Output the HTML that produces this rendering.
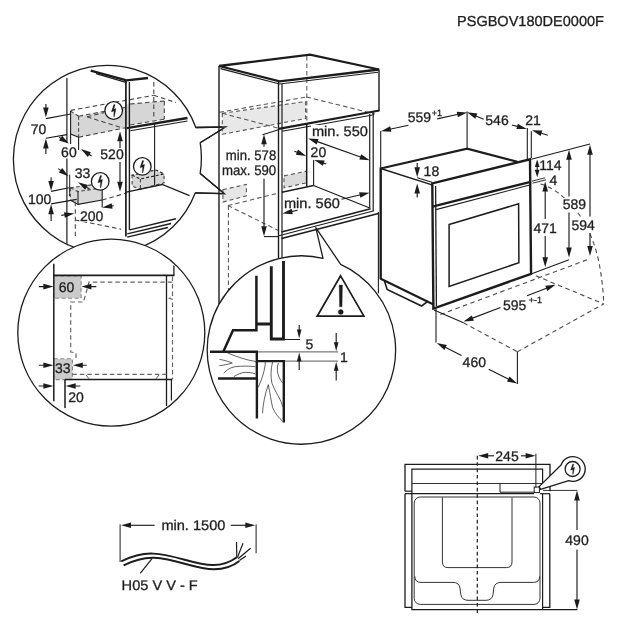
<!DOCTYPE html>
<html><head><meta charset="utf-8"><title>PSGBOV180DE0000F</title>
<style>
html,body{margin:0;padding:0;background:#fff;}
body{width:626px;height:626px;overflow:hidden;}
svg{display:block;font-family:"Liberation Sans",sans-serif;text-rendering:geometricPrecision;will-change:transform;}
</style></head><body>
<svg width="626" height="626" viewBox="0 0 626 626">
<rect width="626" height="626" fill="#fff"/>
<text x="457" y="26.2" font-size="14.5" text-anchor="start" textLength="147" lengthAdjust="spacingAndGlyphs" fill="#1e1e1e" stroke="#1e1e1e" stroke-width="0.3">PSGBOV180DE0000F</text>
<defs><clipPath id="c1"><circle cx="107.4" cy="159.4" r="94"/></clipPath><clipPath id="c2"><circle cx="111.3" cy="332.7" r="93.5"/></clipPath><clipPath id="c3"><circle cx="301.4" cy="350" r="94.2"/></clipPath></defs>
<path d="M195.83,127.52 A94,94 0 1 0 195.21,192.95 L224.5,193.7 L200.2,173.4 Q202.6,158 200.2,142.7 L225.6,127 Z" fill="#fff" stroke="#1c1c1c" stroke-width="1.3" stroke-linejoin="round" stroke-linecap="butt"/>
<g clip-path="url(#c1)">
<polygon points="70.6,111.1 78.6,116.2 125.8,107.3 125.8,127.7 78.6,137.3 70.6,134.1" fill="#d6d6d6" stroke="#d6d6d6" stroke-width="0.1" stroke-linejoin="miter"/>
<polygon points="126,104.4 164.3,101 164.3,119.2 126,125.4" fill="#d6d6d6" stroke="#d6d6d6" stroke-width="0.1" stroke-linejoin="miter"/>
<polygon points="70.3,187.8 94.6,184.5 102.2,187.8 102.2,200 78,204.4 70.3,200" fill="#d9d9d9" stroke="#d9d9d9" stroke-width="0.1" stroke-linejoin="miter"/>
<polygon points="132.1,175.1 155.8,170 164.1,173.9 164.1,182.8 140.4,189.2 132.1,186" fill="#d6d6d6" stroke="#d6d6d6" stroke-width="0.1" stroke-linejoin="miter"/>
<line x1="70.6" y1="110.4" x2="153.8" y2="95.3" stroke="#444" stroke-width="1.1" stroke-dasharray="4.5 3" stroke-linecap="butt"/>
<line x1="153.8" y1="95.3" x2="176" y2="102.6" stroke="#444" stroke-width="1.1" stroke-dasharray="4.5 3" stroke-linecap="butt"/>
<line x1="78.6" y1="116.2" x2="125.8" y2="107.3" stroke="#444" stroke-width="1.1" stroke-dasharray="4.5 3" stroke-linecap="butt"/>
<line x1="130" y1="104" x2="164.3" y2="101" stroke="#444" stroke-width="1.1" stroke-dasharray="4.5 3" stroke-linecap="butt"/>
<line x1="164.3" y1="101" x2="164.3" y2="119.2" stroke="#444" stroke-width="1.1" stroke-dasharray="4.5 3" stroke-linecap="butt"/>
<line x1="130" y1="125" x2="164.3" y2="119.2" stroke="#444" stroke-width="1.1" stroke-dasharray="4.5 3" stroke-linecap="butt"/>
<line x1="78.6" y1="137.3" x2="125.8" y2="127.7" stroke="#444" stroke-width="1.1" stroke-dasharray="4.5 3" stroke-linecap="butt"/>
<line x1="70.6" y1="111.1" x2="78.6" y2="116.2" stroke="#444" stroke-width="1.1" stroke-dasharray="3.5 2.5" stroke-linecap="butt"/>
<line x1="87" y1="116.8" x2="121.5" y2="127.7" stroke="#444" stroke-width="1.1" stroke-dasharray="4.5 3" stroke-linecap="butt"/>
<line x1="87" y1="116.8" x2="104" y2="112.6" stroke="#444" stroke-width="1.1" stroke-dasharray="4.5 3" stroke-linecap="butt"/>
<line x1="78.6" y1="116.2" x2="78.6" y2="137.3" stroke="#444" stroke-width="1.1" stroke-dasharray="3.5 2.5" stroke-linecap="butt"/>
<line x1="70.6" y1="111.1" x2="70.6" y2="144" stroke="#1c1c1c" stroke-width="1.1" stroke-linecap="butt"/>
<line x1="70.6" y1="134.1" x2="78.6" y2="137.3" stroke="#1c1c1c" stroke-width="1.1" stroke-linecap="butt"/>
<polyline points="70.3,187.8 78,191.6 102.2,187.8" fill="none" stroke="#444" stroke-width="1.1" stroke-dasharray="3.5 2.5" stroke-linejoin="miter"/>
<line x1="78" y1="191.6" x2="78" y2="204.4" stroke="#1c1c1c" stroke-width="1.1" stroke-linecap="butt"/>
<line x1="70.3" y1="187.8" x2="70.3" y2="200" stroke="#444" stroke-width="1.1" stroke-dasharray="3.5 2.5" stroke-linecap="butt"/>
<polyline points="70.3,200 78,204.4 102.2,200" fill="none" stroke="#1c1c1c" stroke-width="1.1" stroke-linejoin="miter"/>
<line x1="102.2" y1="187.8" x2="102.2" y2="207.5" stroke="#1c1c1c" stroke-width="1.1" stroke-linecap="butt"/>
<line x1="70.3" y1="187.8" x2="94.6" y2="184.5" stroke="#444" stroke-width="1.1" stroke-dasharray="3.5 2.5" stroke-linecap="butt"/>
<line x1="102.2" y1="200" x2="126.5" y2="193" stroke="#444" stroke-width="1.1" stroke-dasharray="4.5 3" stroke-linecap="butt"/>
<polygon points="132.1,175.1 140.4,179 164.1,173.9 155.8,170" fill="none" stroke="#1c1c1c" stroke-width="1.1" stroke-dasharray="3 2" stroke-linejoin="miter"/>
<polyline points="132.1,175.1 132.1,186 140.4,189.2 164.1,182.8 164.1,173.9" fill="none" stroke="#444" stroke-width="1.1" stroke-dasharray="3.5 2.5" stroke-linejoin="miter"/>
<line x1="140.4" y1="179" x2="140.4" y2="189.2" stroke="#444" stroke-width="1.1" stroke-dasharray="3.5 2.5" stroke-linecap="butt"/>
<line x1="66.9" y1="78" x2="66.9" y2="143" stroke="#1c1c1c" stroke-width="1.2" stroke-linecap="butt"/>
<line x1="66.9" y1="158.6" x2="66.9" y2="245" stroke="#1c1c1c" stroke-width="1.2" stroke-linecap="butt"/>
<line x1="69.7" y1="174.6" x2="69.7" y2="196" stroke="#1c1c1c" stroke-width="1" stroke-linecap="butt"/>
<line x1="90.7" y1="70.6" x2="126.5" y2="80.4" stroke="#1c1c1c" stroke-width="2.4" stroke-linecap="butt"/>
<line x1="126.5" y1="80.4" x2="148" y2="78" stroke="#1c1c1c" stroke-width="2.4" stroke-linecap="butt"/>
<line x1="96" y1="73.6" x2="126.8" y2="82.6" stroke="#1c1c1c" stroke-width="1.1" stroke-linecap="butt"/>
<line x1="125.9" y1="80" x2="125.9" y2="236.5" stroke="#1c1c1c" stroke-width="1.7" stroke-linecap="butt"/>
<line x1="129.4" y1="82" x2="129.4" y2="230" stroke="#1c1c1c" stroke-width="1.4" stroke-linecap="butt"/>
<line x1="126.8" y1="128.2" x2="187.5" y2="118" stroke="#1c1c1c" stroke-width="2.3" stroke-linecap="butt"/>
<line x1="130.3" y1="130.8" x2="187.5" y2="121" stroke="#1c1c1c" stroke-width="1.1" stroke-linecap="butt"/>
<line x1="153.8" y1="82" x2="153.8" y2="118.5" stroke="#444" stroke-width="1.1" stroke-dasharray="4.5 3" stroke-linecap="butt"/>
<line x1="154.6" y1="124" x2="154.6" y2="185.6" stroke="#1c1c1c" stroke-width="1.1" stroke-linecap="butt"/>
<polyline points="125.1,192.4 162.2,184.5 189.5,195.6" fill="none" stroke="#1c1c1c" stroke-width="1.3" stroke-linejoin="miter"/>
<line x1="129.6" y1="229.9" x2="175.9" y2="218.8" stroke="#1c1c1c" stroke-width="1.4" stroke-linecap="butt"/>
<line x1="127.2" y1="233.9" x2="171.1" y2="223.5" stroke="#1c1c1c" stroke-width="1.3" stroke-linecap="butt"/>
<line x1="127.2" y1="237.1" x2="167.9" y2="227.5" stroke="#1c1c1c" stroke-width="1.4" stroke-linecap="butt"/>
<line x1="75.3" y1="201.7" x2="75.3" y2="236" stroke="#444" stroke-width="1.1" stroke-dasharray="4.5 3" stroke-linecap="butt"/>
<line x1="75.3" y1="220" x2="121.2" y2="229.2" stroke="#444" stroke-width="1.1" stroke-dasharray="4.5 3" stroke-linecap="butt"/>
<line x1="45.9" y1="104.1" x2="45.9" y2="108.6" stroke="#1c1c1c" stroke-width="1.15" stroke-linecap="butt"/>
<polygon points="45.9,117.6 43.1,107.6 48.7,107.6" fill="#1c1c1c"/>
<line x1="45.9" y1="118.6" x2="70.6" y2="114" stroke="#1c1c1c" stroke-width="1.1" stroke-linecap="butt"/>
<line x1="45.9" y1="153.9" x2="45.9" y2="147.5" stroke="#1c1c1c" stroke-width="1.15" stroke-linecap="butt"/>
<polygon points="45.9,138.5 48.7,148.5 43.1,148.5" fill="#1c1c1c"/>
<line x1="45.9" y1="138.2" x2="67" y2="134.6" stroke="#1c1c1c" stroke-width="1.1" stroke-linecap="butt"/>
<text x="38.6" y="134.01" font-size="14" text-anchor="middle" fill="#1e1e1e" stroke="#1e1e1e" stroke-width="0.3">70</text>
<line x1="59.3" y1="137.2" x2="61.41" y2="138.61" stroke="#1c1c1c" stroke-width="1.15" stroke-linecap="butt"/>
<polygon points="68.9,143.6 59.03,140.38 62.13,135.72" fill="#1c1c1c"/>
<line x1="91.6" y1="156" x2="88.54" y2="154.01" stroke="#1c1c1c" stroke-width="1.15" stroke-linecap="butt"/>
<polygon points="81,149.1 90.91,152.21 87.85,156.9" fill="#1c1c1c"/>
<line x1="78.6" y1="137.3" x2="78.6" y2="150" stroke="#1c1c1c" stroke-width="1.1" stroke-linecap="butt"/>
<text x="68.9" y="157.01" font-size="14" text-anchor="middle" fill="#1e1e1e" stroke="#1e1e1e" stroke-width="0.3">60</text>
<line x1="120" y1="148" x2="120" y2="140.2" stroke="#1c1c1c" stroke-width="1.15" stroke-linecap="butt"/>
<polygon points="120,131.2 122.8,141.2 117.2,141.2" fill="#1c1c1c"/>
<line x1="120" y1="162" x2="120" y2="182.8" stroke="#1c1c1c" stroke-width="1.15" stroke-linecap="butt"/>
<polygon points="120,191.8 117.2,181.8 122.8,181.8" fill="#1c1c1c"/>
<text x="112" y="158.51" font-size="14" text-anchor="middle" fill="#1e1e1e" stroke="#1e1e1e" stroke-width="0.3">520</text>
<line x1="58.3" y1="168.6" x2="61.32" y2="170.88" stroke="#1c1c1c" stroke-width="1.15" stroke-linecap="butt"/>
<polygon points="68.5,176.3 58.83,172.51 62.21,168.04" fill="#1c1c1c"/>
<line x1="89.5" y1="189.1" x2="85.72" y2="186.83" stroke="#1c1c1c" stroke-width="1.15" stroke-linecap="butt"/>
<polygon points="78,182.2 88.02,184.94 85.13,189.75" fill="#1c1c1c"/>
<text x="82.6" y="177.51" font-size="14" text-anchor="middle" fill="#1e1e1e" stroke="#1e1e1e" stroke-width="0.3">33</text>
<line x1="51.1" y1="177.6" x2="51.1" y2="182" stroke="#1c1c1c" stroke-width="1.15" stroke-linecap="butt"/>
<polygon points="51.1,191 48.3,181 53.9,181" fill="#1c1c1c"/>
<line x1="51.1" y1="191.4" x2="69" y2="187.8" stroke="#1c1c1c" stroke-width="1.1" stroke-linecap="butt"/>
<line x1="51.1" y1="221" x2="51.1" y2="213.3" stroke="#1c1c1c" stroke-width="1.15" stroke-linecap="butt"/>
<polygon points="51.1,204.3 53.9,214.3 48.3,214.3" fill="#1c1c1c"/>
<line x1="51.1" y1="203.9" x2="76.7" y2="199.4" stroke="#1c1c1c" stroke-width="1.1" stroke-linecap="butt"/>
<text x="39.6" y="204.31" font-size="14" text-anchor="middle" fill="#1e1e1e" stroke="#1e1e1e" stroke-width="0.3">100</text>
<line x1="61.3" y1="215.4" x2="65.4" y2="214.77" stroke="#1c1c1c" stroke-width="1.15" stroke-linecap="butt"/>
<polygon points="74.3,213.4 64.84,217.69 63.99,212.15" fill="#1c1c1c"/>
<line x1="113.7" y1="205.7" x2="111.09" y2="206.11" stroke="#1c1c1c" stroke-width="1.15" stroke-linecap="butt"/>
<polygon points="102.2,207.5 111.65,203.19 112.51,208.72" fill="#1c1c1c"/>
<rect x="79.5" y="210" width="24.5" height="12" fill="#fff"/>
<text x="91.7" y="221.01" font-size="14" text-anchor="middle" fill="#1e1e1e" stroke="#1e1e1e" stroke-width="0.3">200</text>
<circle cx="113.7" cy="110.5" r="8.8" fill="#fff" stroke="#1c1c1c" stroke-width="1.3"/>
<polygon points="113.8,104.6 115.2,104.8 113.8,109.2 116,108.5 114.4,116.8 113.7,116.8 114,111 111.3,111.9" fill="#1c1c1c" stroke="#1c1c1c" stroke-width="0.3"/>
<circle cx="142.3" cy="166.4" r="8.8" fill="#fff" stroke="#1c1c1c" stroke-width="1.3"/>
<polygon points="142.4,160.5 143.8,160.7 142.4,165.1 144.6,164.4 143,172.7 142.3,172.7 142.6,166.9 139.9,167.8" fill="#1c1c1c" stroke="#1c1c1c" stroke-width="0.3"/>
<circle cx="100.2" cy="181.4" r="8.8" fill="#fff" stroke="#1c1c1c" stroke-width="1.3"/>
<polygon points="100.3,175.5 101.7,175.7 100.3,180.1 102.5,179.4 100.9,187.7 100.2,187.7 100.5,181.9 97.8,182.8" fill="#1c1c1c" stroke="#1c1c1c" stroke-width="0.3"/>
</g>
<polygon points="222.3,113.3 305.6,101.5 305.6,118.5 222.3,134.3" fill="#e8e8e8" stroke="#555" stroke-width="1.1" stroke-dasharray="4 3" stroke-linejoin="miter"/>
<polygon points="222.9,189.7 246.4,184.4 246.4,195.9 222.9,202.1" fill="#e6e6e6" stroke="#555" stroke-width="1.1" stroke-dasharray="4 3" stroke-linejoin="miter"/>
<polygon points="284,175.9 306.4,171.2 306.4,182.8 284,187.9" fill="#dcdcdc" stroke="#555" stroke-width="1.1" stroke-dasharray="4 3" stroke-linejoin="miter"/>
<line x1="306.8" y1="56" x2="306.8" y2="123" stroke="#555" stroke-width="1.05" stroke-dasharray="4.5 3" stroke-linecap="butt"/>
<line x1="219.4" y1="112.3" x2="306.6" y2="97" stroke="#555" stroke-width="1.05" stroke-dasharray="4.5 3" stroke-linecap="butt"/>
<line x1="306.6" y1="97" x2="375" y2="114" stroke="#555" stroke-width="1.05" stroke-dasharray="4.5 3" stroke-linecap="butt"/>
<line x1="222.3" y1="113.3" x2="279.8" y2="128.6" stroke="#555" stroke-width="1.05" stroke-dasharray="4.5 3" stroke-linecap="butt"/>
<line x1="228" y1="205.6" x2="278.4" y2="193.1" stroke="#555" stroke-width="1.05" stroke-dasharray="4.5 3" stroke-linecap="butt"/>
<line x1="228" y1="205.6" x2="278.4" y2="230.5" stroke="#555" stroke-width="1.05" stroke-dasharray="4.5 3" stroke-linecap="butt"/>
<line x1="228.4" y1="205.6" x2="228.4" y2="292" stroke="#555" stroke-width="1.05" stroke-dasharray="4.5 3" stroke-linecap="butt"/>
<polygon points="219,66 310,54.7 379,69.5 279.6,81.3" fill="none" stroke="#1c1c1c" stroke-width="2.3" stroke-linejoin="miter"/>
<polyline points="220.5,68.6 279.6,84 378,72.2" fill="none" stroke="#1c1c1c" stroke-width="1.1" stroke-linejoin="miter"/>
<line x1="219" y1="66" x2="219" y2="304" stroke="#1c1c1c" stroke-width="1.4" stroke-linecap="butt"/>
<line x1="278.5" y1="82" x2="278.5" y2="262" stroke="#1c1c1c" stroke-width="1.4" stroke-linecap="butt"/>
<line x1="282" y1="84" x2="282" y2="262" stroke="#1c1c1c" stroke-width="1.2" stroke-linecap="butt"/>
<line x1="379" y1="69.5" x2="379" y2="111" stroke="#1c1c1c" stroke-width="1.4" stroke-linecap="butt"/>
<line x1="379.4" y1="110.5" x2="278.5" y2="128.8" stroke="#1c1c1c" stroke-width="2.2" stroke-linecap="butt"/>
<line x1="374" y1="114.8" x2="282" y2="131.2" stroke="#1c1c1c" stroke-width="1.1" stroke-linecap="butt"/>
<line x1="369.7" y1="114" x2="369.7" y2="208" stroke="#1c1c1c" stroke-width="1.2" stroke-linecap="butt"/>
<line x1="373.2" y1="112" x2="373.2" y2="211" stroke="#1c1c1c" stroke-width="1.2" stroke-linecap="butt"/>
<line x1="281.5" y1="232" x2="370.6" y2="208.8" stroke="#1c1c1c" stroke-width="1.7" stroke-linecap="butt"/>
<line x1="279" y1="235.8" x2="374.1" y2="210.7" stroke="#1c1c1c" stroke-width="1.1" stroke-linecap="butt"/>
<line x1="281.5" y1="238.5" x2="378.4" y2="213.5" stroke="#1c1c1c" stroke-width="1.7" stroke-linecap="butt"/>
<line x1="378.4" y1="212" x2="378.4" y2="293.3" stroke="#1c1c1c" stroke-width="1.1" stroke-linecap="butt"/>
<line x1="306.7" y1="124" x2="306.7" y2="186.4" stroke="#1c1c1c" stroke-width="1.5" stroke-linecap="butt"/>
<line x1="313.5" y1="185.5" x2="369.8" y2="208" stroke="#1c1c1c" stroke-width="1.2" stroke-linecap="butt"/>
<line x1="313.5" y1="185.5" x2="281.8" y2="192.2" stroke="#1c1c1c" stroke-width="1.4" stroke-linecap="butt"/>
<line x1="313.6" y1="160" x2="313.6" y2="185.6" stroke="#1c1c1c" stroke-width="1.1" stroke-linecap="butt"/>
<text x="276.2" y="160.4" font-size="14" text-anchor="end" textLength="50.4" lengthAdjust="spacingAndGlyphs" fill="#1e1e1e" stroke="#1e1e1e" stroke-width="0.3">min. 578</text>
<text x="276.2" y="175.1" font-size="14" text-anchor="end" textLength="54.3" lengthAdjust="spacingAndGlyphs" fill="#1e1e1e" stroke="#1e1e1e" stroke-width="0.3">max. 590</text>
<line x1="264" y1="146.8" x2="264" y2="143.3" stroke="#1c1c1c" stroke-width="1.15" stroke-linecap="butt"/>
<polygon points="264,134.3 266.8,144.3 261.2,144.3" fill="#1c1c1c"/>
<line x1="264" y1="178.8" x2="264" y2="227.3" stroke="#1c1c1c" stroke-width="1.15" stroke-linecap="butt"/>
<polygon points="264,236.3 261.2,226.3 266.8,226.3" fill="#1c1c1c"/>
<line x1="262.5" y1="134.8" x2="278.5" y2="129.8" stroke="#1c1c1c" stroke-width="1.1" stroke-linecap="butt"/>
<line x1="264" y1="236.6" x2="278.5" y2="236.6" stroke="#1c1c1c" stroke-width="1.1" stroke-linecap="butt"/>
<polygon points="308.2,138.4 318.56,139.1 316.69,144.38" fill="#1c1c1c"/>
<line x1="316.68" y1="141.41" x2="361.22" y2="157.19" stroke="#1c1c1c" stroke-width="1.15" stroke-linecap="butt"/>
<polygon points="369.7,160.2 359.34,159.5 361.21,154.22" fill="#1c1c1c"/>
<rect x="311" y="125" width="58" height="12.5" fill="#fff"/>
<text x="311.9" y="136.2" font-size="14" text-anchor="start" textLength="56.1" lengthAdjust="spacingAndGlyphs" fill="#1e1e1e" stroke="#1e1e1e" stroke-width="0.3">min. 550</text>
<line x1="294.4" y1="151.2" x2="297.84" y2="152.57" stroke="#1c1c1c" stroke-width="1.15" stroke-linecap="butt"/>
<polygon points="306.2,155.9 295.87,154.8 297.95,149.6" fill="#1c1c1c"/>
<line x1="326.3" y1="164" x2="322.84" y2="162.85" stroke="#1c1c1c" stroke-width="1.15" stroke-linecap="butt"/>
<polygon points="314.3,160 324.67,160.51 322.9,165.82" fill="#1c1c1c"/>
<text x="318.4" y="156.91" font-size="14" text-anchor="middle" fill="#1e1e1e" stroke="#1e1e1e" stroke-width="0.3">20</text>
<line x1="297.6" y1="210.3" x2="291.21" y2="211.65" stroke="#1c1c1c" stroke-width="1.15" stroke-linecap="butt"/>
<polygon points="282.4,213.5 291.61,208.7 292.76,214.18" fill="#1c1c1c"/>
<line x1="341.5" y1="199.2" x2="360.73" y2="194.81" stroke="#1c1c1c" stroke-width="1.15" stroke-linecap="butt"/>
<polygon points="369.5,192.8 360.38,197.76 359.13,192.3" fill="#1c1c1c"/>
<text x="283.9" y="208.2" font-size="14" text-anchor="start" textLength="56.1" lengthAdjust="spacingAndGlyphs" fill="#1e1e1e" stroke="#1e1e1e" stroke-width="0.3">min. 560</text>
<polyline points="195.83,127.52 225.6,127 200.2,142.7" fill="none" stroke="#1c1c1c" stroke-width="1.3" stroke-linejoin="miter"/>
<polyline points="200.2,173.4 224.5,193.7 195.21,192.95" fill="none" stroke="#1c1c1c" stroke-width="1.3" stroke-linejoin="miter"/>
<line x1="380.7" y1="131" x2="380.7" y2="168" stroke="#1c1c1c" stroke-width="1.1" stroke-linecap="butt"/>
<line x1="467.1" y1="111.5" x2="467.1" y2="148" stroke="#1c1c1c" stroke-width="1.1" stroke-linecap="butt"/>
<line x1="527.3" y1="128.1" x2="527.3" y2="159.5" stroke="#1c1c1c" stroke-width="1.1" stroke-linecap="butt"/>
<line x1="531.3" y1="131.2" x2="531.3" y2="158" stroke="#1c1c1c" stroke-width="1.1" stroke-linecap="butt"/>
<polyline points="380.7,168.5 467.1,148.6 517.5,161.8" fill="none" stroke="#1c1c1c" stroke-width="2.2" stroke-linejoin="miter"/>
<line x1="380.7" y1="167.6" x2="380.7" y2="279" stroke="#1c1c1c" stroke-width="2.4" stroke-linecap="butt"/>
<line x1="380.7" y1="168.5" x2="432" y2="184.8" stroke="#1c1c1c" stroke-width="1.4" stroke-linecap="butt"/>
<line x1="417.2" y1="177.7" x2="432" y2="182.2" stroke="#1c1c1c" stroke-width="1.1" stroke-linecap="butt"/>
<polygon points="432.3,183.4 530,159.3 531.05,273.9 433.4,308.6" fill="none" stroke="#1c1c1c" stroke-width="2.4" stroke-linejoin="miter"/>
<line x1="435.6" y1="186" x2="436.4" y2="306" stroke="#1c1c1c" stroke-width="1.3" stroke-linecap="butt"/>
<line x1="432.5" y1="206.6" x2="530.6" y2="181.8" stroke="#1c1c1c" stroke-width="2.4" stroke-linecap="butt"/>
<line x1="436" y1="209.6" x2="530.6" y2="184.8" stroke="#1c1c1c" stroke-width="1.1" stroke-linecap="butt"/>
<polygon points="449.1,224.5 518.6,203.8 518.9,262.7 449.1,286.4" fill="none" stroke="#1c1c1c" stroke-width="1.5" stroke-linejoin="miter"/>
<line x1="380.2" y1="278.4" x2="434" y2="304.8" stroke="#1c1c1c" stroke-width="2.2" stroke-linecap="butt"/>
<polyline points="384.5,281.1 387.1,289.4 421.6,306 427.5,301.6" fill="none" stroke="#1c1c1c" stroke-width="1.6" stroke-linejoin="miter"/>
<line x1="417.2" y1="163" x2="417.2" y2="168.3" stroke="#1c1c1c" stroke-width="1.15" stroke-linecap="butt"/>
<polygon points="417.2,177.3 414.4,167.3 420,167.3" fill="#1c1c1c"/>
<line x1="417.2" y1="197.5" x2="417.2" y2="192.6" stroke="#1c1c1c" stroke-width="1.15" stroke-linecap="butt"/>
<polygon points="417.2,183.6 420,193.6 414.4,193.6" fill="#1c1c1c"/>
<text x="431.4" y="176.31" font-size="14" text-anchor="middle" fill="#1e1e1e" stroke="#1e1e1e" stroke-width="0.3">18</text>
<line x1="408.5" y1="125.2" x2="389.79" y2="129.28" stroke="#1c1c1c" stroke-width="1.15" stroke-linecap="butt"/>
<polygon points="381,131.2 390.17,126.33 391.37,131.8" fill="#1c1c1c"/>
<line x1="437.2" y1="118.9" x2="458.31" y2="114.31" stroke="#1c1c1c" stroke-width="1.15" stroke-linecap="butt"/>
<polygon points="467.1,112.4 457.92,117.26 456.73,111.79" fill="#1c1c1c"/>
<text x="419.4" y="122.31" font-size="14" text-anchor="middle" fill="#1e1e1e" stroke="#1e1e1e" stroke-width="0.3">559</text>
<text x="437" y="115.6" font-size="9" text-anchor="middle" fill="#1e1e1e" stroke="#1e1e1e" stroke-width="0.3">+1</text>
<line x1="483.7" y1="119.2" x2="475.41" y2="115.75" stroke="#1c1c1c" stroke-width="1.15" stroke-linecap="butt"/>
<polygon points="467.1,112.3 477.41,113.55 475.26,118.72" fill="#1c1c1c"/>
<line x1="511.9" y1="125" x2="518.09" y2="126.62" stroke="#1c1c1c" stroke-width="1.15" stroke-linecap="butt"/>
<polygon points="526.8,128.9 516.42,129.08 517.83,123.66" fill="#1c1c1c"/>
<text x="497" y="125.01" font-size="14" text-anchor="middle" fill="#1e1e1e" stroke="#1e1e1e" stroke-width="0.3">546</text>
<line x1="547.8" y1="135.3" x2="540.56" y2="132.96" stroke="#1c1c1c" stroke-width="1.15" stroke-linecap="butt"/>
<polygon points="532,130.2 542.38,130.61 540.66,135.94" fill="#1c1c1c"/>
<text x="533" y="125.01" font-size="14" text-anchor="middle" fill="#1e1e1e" stroke="#1e1e1e" stroke-width="0.3">21</text>
<path d="M540.5,184 C552,187 566,197 578,213 C590,229 597,250 600,268 C602.5,283 603.5,295 603.7,303.9" fill="none" stroke="#4a4a4a" stroke-width="1.1" stroke-dasharray="4.5 3.5" stroke-linejoin="round" stroke-linecap="butt"/>
<line x1="531.3" y1="159.3" x2="590" y2="144" stroke="#1c1c1c" stroke-width="1.1" stroke-linecap="butt"/>
<polygon points="537.2,159.6 539.6,167.1 534.8,167.1" fill="#1c1c1c"/>
<line x1="537.2" y1="166.1" x2="537.2" y2="170.7" stroke="#1c1c1c" stroke-width="1.15" stroke-linecap="butt"/>
<polygon points="537.2,177.2 534.8,169.7 539.6,169.7" fill="#1c1c1c"/>
<text x="550.4" y="170.01" font-size="14" text-anchor="middle" fill="#1e1e1e" stroke="#1e1e1e" stroke-width="0.3">114</text>
<line x1="532" y1="181.2" x2="545" y2="177.8" stroke="#1c1c1c" stroke-width="0.9" stroke-linecap="butt"/>
<line x1="532.6" y1="183.2" x2="546" y2="179.8" stroke="#1c1c1c" stroke-width="0.9" stroke-linecap="butt"/>
<text x="553.3" y="185.41" font-size="14" text-anchor="middle" fill="#1e1e1e" stroke="#1e1e1e" stroke-width="0.3">4</text>
<line x1="545.2" y1="219" x2="545.2" y2="190.6" stroke="#1c1c1c" stroke-width="1.15" stroke-linecap="butt"/>
<polygon points="545.2,181.6 548,191.6 542.4,191.6" fill="#1c1c1c"/>
<line x1="545.2" y1="236" x2="545.2" y2="258.2" stroke="#1c1c1c" stroke-width="1.15" stroke-linecap="butt"/>
<polygon points="545.2,267.2 542.4,257.2 548,257.2" fill="#1c1c1c"/>
<text x="545.2" y="232.81" font-size="14" text-anchor="middle" fill="#1e1e1e" stroke="#1e1e1e" stroke-width="0.3">471</text>
<line x1="569" y1="196.5" x2="569" y2="158.8" stroke="#1c1c1c" stroke-width="1.15" stroke-linecap="butt"/>
<polygon points="569,149.8 571.8,159.8 566.2,159.8" fill="#1c1c1c"/>
<line x1="569" y1="212.5" x2="569" y2="248.6" stroke="#1c1c1c" stroke-width="1.15" stroke-linecap="butt"/>
<polygon points="569,257.6 566.2,247.6 571.8,247.6" fill="#1c1c1c"/>
<rect x="562.5" y="198" width="24" height="12.6" fill="#fff"/>
<text x="574.4" y="208.81" font-size="14" text-anchor="middle" fill="#1e1e1e" stroke="#1e1e1e" stroke-width="0.3">589</text>
<line x1="590" y1="216.5" x2="590" y2="153.7" stroke="#1c1c1c" stroke-width="1.15" stroke-linecap="butt"/>
<polygon points="590,144.7 592.8,154.7 587.2,154.7" fill="#1c1c1c"/>
<line x1="590" y1="233" x2="590" y2="247" stroke="#1c1c1c" stroke-width="1.15" stroke-linecap="butt"/>
<polygon points="590,256 587.2,246 592.8,246" fill="#1c1c1c"/>
<rect x="571" y="218.4" width="24.5" height="12.6" fill="#fff"/>
<text x="583.2" y="229.71" font-size="14" text-anchor="middle" fill="#1e1e1e" stroke="#1e1e1e" stroke-width="0.3">594</text>
<line x1="531.05" y1="273.9" x2="569" y2="259.8" stroke="#1c1c1c" stroke-width="1.1" stroke-linecap="butt"/>
<line x1="440.4" y1="314.5" x2="590" y2="258.7" stroke="#4a4a4a" stroke-width="1.1" stroke-dasharray="4.5 3.5" stroke-linecap="butt"/>
<line x1="434" y1="310" x2="463.5" y2="322.8" stroke="#1c1c1c" stroke-width="1.1" stroke-linecap="butt"/>
<line x1="463.5" y1="322.8" x2="517.4" y2="351.8" stroke="#4a4a4a" stroke-width="1.1" stroke-dasharray="4.5 3.5" stroke-linecap="butt"/>
<line x1="517.4" y1="351.8" x2="603.7" y2="303.9" stroke="#4a4a4a" stroke-width="1.1" stroke-dasharray="4.5 3.5" stroke-linecap="butt"/>
<line x1="535.8" y1="275.8" x2="603.7" y2="303.9" stroke="#4a4a4a" stroke-width="1.1" stroke-dasharray="4.5 3.5" stroke-linecap="butt"/>
<line x1="500.5" y1="307.5" x2="471.91" y2="318.4" stroke="#1c1c1c" stroke-width="1.15" stroke-linecap="butt"/>
<polygon points="463.5,321.6 471.85,315.42 473.84,320.66" fill="#1c1c1c"/>
<line x1="527" y1="295.7" x2="547.2" y2="287.93" stroke="#1c1c1c" stroke-width="1.15" stroke-linecap="butt"/>
<polygon points="555.6,284.7 547.27,290.9 545.26,285.68" fill="#1c1c1c"/>
<text x="514.7" y="310.41" font-size="14" text-anchor="middle" fill="#1e1e1e" stroke="#1e1e1e" stroke-width="0.3">595</text>
<text x="535.4" y="303" font-size="9" text-anchor="middle" fill="#1e1e1e" stroke="#1e1e1e" stroke-width="0.3">+-1</text>
<line x1="436" y1="309" x2="436" y2="342.5" stroke="#1c1c1c" stroke-width="1.1" stroke-linecap="butt"/>
<line x1="517.4" y1="351.8" x2="517.4" y2="384" stroke="#1c1c1c" stroke-width="1.1" stroke-linecap="butt"/>
<line x1="461.5" y1="355.4" x2="444.74" y2="346.95" stroke="#1c1c1c" stroke-width="1.15" stroke-linecap="butt"/>
<polygon points="436.7,342.9 446.89,344.9 444.37,349.9" fill="#1c1c1c"/>
<line x1="488.7" y1="369.2" x2="509.17" y2="379.54" stroke="#1c1c1c" stroke-width="1.15" stroke-linecap="butt"/>
<polygon points="517.2,383.6 507.01,381.59 509.54,376.59" fill="#1c1c1c"/>
<text x="474.3" y="367.41" font-size="14" text-anchor="middle" fill="#1e1e1e" stroke="#1e1e1e" stroke-width="0.3">460</text>
<circle cx="111.3" cy="332.7" r="93.5" fill="#fff" stroke="#1c1c1c" stroke-width="1.3"/>
<g clip-path="url(#c2)">
<rect x="53.8" y="276" width="27.3" height="22.2" fill="#cbcbcb" stroke="#8a8a8a" stroke-width="1.1" stroke-dasharray="4 2.5"/>
<rect x="53.8" y="358.8" width="18.6" height="20.8" fill="#cbcbcb" stroke="#8a8a8a" stroke-width="1.1" stroke-dasharray="4 2.5"/>
<line x1="53.8" y1="263.8" x2="53.8" y2="401.2" stroke="#1c1c1c" stroke-width="1.5" stroke-linecap="butt"/>
<line x1="53.1" y1="275.3" x2="174.5" y2="275.3" stroke="#1c1c1c" stroke-width="1.7" stroke-linecap="butt"/>
<line x1="173.9" y1="265.6" x2="173.9" y2="275.3" stroke="#1c1c1c" stroke-width="1.3" stroke-linecap="butt"/>
<line x1="166.5" y1="275" x2="166.5" y2="406" stroke="#1c1c1c" stroke-width="1.3" stroke-linecap="butt"/>
<polyline points="172.5,276.5 172.5,297 169.5,298.2 172.5,299.4 172.5,379" fill="none" stroke="#666" stroke-width="1.2" stroke-dasharray="4.5 3" stroke-linejoin="miter"/>
<line x1="65" y1="379.6" x2="172.4" y2="379.6" stroke="#1c1c1c" stroke-width="1.5" stroke-linecap="butt"/>
<line x1="65" y1="379.6" x2="65" y2="408" stroke="#1c1c1c" stroke-width="1.5" stroke-linecap="butt"/>
<line x1="171.4" y1="379.6" x2="171.4" y2="400.5" stroke="#1c1c1c" stroke-width="1.2" stroke-linecap="butt"/>
<polyline points="172.3,282.2 89,282.2 83.5,302 70.7,302 70.7,352 76,353 76,360" fill="none" stroke="#666" stroke-width="1.2" stroke-dasharray="4.5 3" stroke-linejoin="miter"/>
<line x1="72.3" y1="374.3" x2="166.5" y2="374.3" stroke="#666" stroke-width="1.2" stroke-dasharray="4.5 3" stroke-linecap="butt"/>
<polyline points="86,375 89,378.8" fill="none" stroke="#1c1c1c" stroke-width="0.7" stroke-linejoin="miter"/>
<polyline points="159,375 156,378.8" fill="none" stroke="#1c1c1c" stroke-width="0.7" stroke-linejoin="miter"/>
<line x1="38.8" y1="286.6" x2="44.4" y2="286.6" stroke="#1c1c1c" stroke-width="1.15" stroke-linecap="butt"/>
<polygon points="53.4,286.6 43.4,289.4 43.4,283.8" fill="#1c1c1c"/>
<line x1="96.3" y1="286.6" x2="90.4" y2="286.6" stroke="#1c1c1c" stroke-width="1.15" stroke-linecap="butt"/>
<polygon points="81.4,286.6 91.4,283.8 91.4,289.4" fill="#1c1c1c"/>
<text x="66.5" y="291.81" font-size="14" text-anchor="middle" fill="#1e1e1e" stroke="#1e1e1e" stroke-width="0.3">60</text>
<line x1="38.8" y1="365.2" x2="44.4" y2="365.2" stroke="#1c1c1c" stroke-width="1.15" stroke-linecap="butt"/>
<polygon points="53.4,365.2 43.4,368 43.4,362.4" fill="#1c1c1c"/>
<line x1="86.7" y1="365.2" x2="81.8" y2="365.2" stroke="#1c1c1c" stroke-width="1.15" stroke-linecap="butt"/>
<polygon points="72.8,365.2 82.8,362.4 82.8,368" fill="#1c1c1c"/>
<text x="62.7" y="372.81" font-size="14" text-anchor="middle" fill="#1e1e1e" stroke="#1e1e1e" stroke-width="0.3">33</text>
<line x1="38.8" y1="386" x2="44.4" y2="386" stroke="#1c1c1c" stroke-width="1.15" stroke-linecap="butt"/>
<polygon points="53.4,386 43.4,388.8 43.4,383.2" fill="#1c1c1c"/>
<line x1="80.3" y1="386" x2="74.6" y2="386" stroke="#1c1c1c" stroke-width="1.15" stroke-linecap="butt"/>
<polygon points="65.6,386 75.6,383.2 75.6,388.8" fill="#1c1c1c"/>
<text x="76.1" y="401.81" font-size="14" text-anchor="middle" fill="#1e1e1e" stroke="#1e1e1e" stroke-width="0.3">20</text>
</g>
<path d="M340.66,264.37 A94.2,94.2 0 1 1 323.01,258.31 L315.8,227.6 Z" fill="#fff" stroke="#1c1c1c" stroke-width="1.3" stroke-linejoin="round" stroke-linecap="butt"/>
<g clip-path="url(#c3)">
<polyline points="271.3,266.2 271.3,339 283.5,339 283.5,261" fill="none" stroke="#1c1c1c" stroke-width="2.9" stroke-linejoin="miter"/>
<polyline points="256.4,275.8 256.4,330.2 233,330.2 223.4,351.6" fill="none" stroke="#1c1c1c" stroke-width="2.5" stroke-linejoin="miter"/>
<line x1="256.4" y1="324" x2="271.3" y2="324" stroke="#1c1c1c" stroke-width="3" stroke-linecap="butt"/>
<polyline points="210,351.8 256.8,351.8 256.8,378.5 218,378.5" fill="none" stroke="#1c1c1c" stroke-width="2.4" stroke-linejoin="miter"/>
<polyline points="256.9,378.5 256.9,418.6" fill="none" stroke="#1c1c1c" stroke-width="2.4" stroke-linejoin="miter"/>
<polyline points="256.8,361.1 283.8,361.1 283.8,422.4" fill="none" stroke="#1c1c1c" stroke-width="2.4" stroke-linejoin="miter"/>
<path d="M227.3,352.8 C236,356.5 246,360 256,361.6" fill="none" stroke="#3a3a3a" stroke-width="0.8" stroke-linejoin="round" stroke-linecap="butt"/>
<path d="M219.4,359.4 C224,360 228,361.4 232.3,363 C228,364.4 224,365.2 219.4,365.6" fill="none" stroke="#3a3a3a" stroke-width="0.8" stroke-linejoin="round" stroke-linecap="butt"/>
<path d="M223.7,373.1 C227,370 230,367.4 235.2,366.7 C242,365.8 249,366 255.3,366.7" fill="none" stroke="#3a3a3a" stroke-width="0.8" stroke-linejoin="round" stroke-linecap="butt"/>
<path d="M233.8,376.7 C238,374 241.5,372.6 245.3,372.4 C249,372.2 252,372.8 255.3,373.8" fill="none" stroke="#3a3a3a" stroke-width="0.8" stroke-linejoin="round" stroke-linecap="butt"/>
<path d="M265.4,361.8 C265,370 262,379 258.2,387.4" fill="none" stroke="#3a3a3a" stroke-width="0.8" stroke-linejoin="round" stroke-linecap="butt"/>
<path d="M272.6,361.8 C270.6,370 270.6,377 271.9,383.1 C275,392 281,399 283.2,407.6" fill="none" stroke="#3a3a3a" stroke-width="0.8" stroke-linejoin="round" stroke-linecap="butt"/>
<path d="M268.3,384.6 C265,394 263,404 262.5,413.3" fill="none" stroke="#3a3a3a" stroke-width="0.8" stroke-linejoin="round" stroke-linecap="butt"/>
<path d="M268.3,384.6 C270,393 271,400 272.6,407.6 C275,413.5 279,418 282.6,421.2" fill="none" stroke="#3a3a3a" stroke-width="0.8" stroke-linejoin="round" stroke-linecap="butt"/>
<path d="M278.3,363 C276.6,369 277.4,373 279,377 C280.4,380 281.6,381.6 282.6,383.1" fill="none" stroke="#3a3a3a" stroke-width="0.8" stroke-linejoin="round" stroke-linecap="butt"/>
<line x1="283.8" y1="339.5" x2="300" y2="339.5" stroke="#1c1c1c" stroke-width="1.1" stroke-linecap="butt"/>
<line x1="258" y1="351.9" x2="338" y2="351.9" stroke="#444" stroke-width="0.9" stroke-linecap="butt"/>
<line x1="285" y1="361.1" x2="338" y2="361.1" stroke="#444" stroke-width="0.9" stroke-linecap="butt"/>
<line x1="299.2" y1="324.9" x2="299.2" y2="330.6" stroke="#1c1c1c" stroke-width="1.15" stroke-linecap="butt"/>
<polygon points="299.2,338.6 296.9,329.6 301.5,329.6" fill="#1c1c1c"/>
<line x1="299.2" y1="370" x2="299.2" y2="360.6" stroke="#1c1c1c" stroke-width="1.15" stroke-linecap="butt"/>
<polygon points="299.2,352.6 301.5,361.6 296.9,361.6" fill="#1c1c1c"/>
<text x="309.4" y="349.21" font-size="14" text-anchor="middle" fill="#1e1e1e" stroke="#1e1e1e" stroke-width="0.3">5</text>
<line x1="336.2" y1="333" x2="336.2" y2="343.2" stroke="#1c1c1c" stroke-width="1.15" stroke-linecap="butt"/>
<polygon points="336.2,351.2 333.9,342.2 338.5,342.2" fill="#1c1c1c"/>
<line x1="336.2" y1="380.4" x2="336.2" y2="369.8" stroke="#1c1c1c" stroke-width="1.15" stroke-linecap="butt"/>
<polygon points="336.2,361.8 338.5,370.8 333.9,370.8" fill="#1c1c1c"/>
<text x="344" y="361.81" font-size="14" text-anchor="middle" fill="#1e1e1e" stroke="#1e1e1e" stroke-width="0.3">1</text>
<polygon points="340.6,275.8 363.9,316.2 317.2,316.2" fill="none" stroke="#1c1c1c" stroke-width="1.7" stroke-linejoin="miter"/>
<polygon points="339.2,285.1 342.4,285.1 342,306.8 339.6,306.8" fill="#1c1c1c" stroke="#1c1c1c" stroke-width="0.4" stroke-linejoin="miter"/>
<circle cx="340.8" cy="312" r="2.5" fill="#1c1c1c" stroke="#1c1c1c" stroke-width="0.3"/>
</g>
<polyline points="405,491.2 405,464.4 550,464.4 550,491.2" fill="none" stroke="#1c1c1c" stroke-width="1.3" stroke-linejoin="miter"/>
<polyline points="411.9,493.7 411.9,469.2 542.6,469.2 542.6,487" fill="none" stroke="#1c1c1c" stroke-width="1.2" stroke-linejoin="miter"/>
<line x1="405" y1="491.2" x2="411.9" y2="491.2" stroke="#1c1c1c" stroke-width="1.2" stroke-linecap="butt"/>
<line x1="411.9" y1="483.5" x2="542.6" y2="483.5" stroke="#1c1c1c" stroke-width="0.9" stroke-linecap="butt"/>
<polyline points="500,483.5 500,492.2 534.2,492.2" fill="none" stroke="#1c1c1c" stroke-width="1" stroke-linejoin="miter"/>
<line x1="405" y1="493.7" x2="534" y2="493.7" stroke="#1c1c1c" stroke-width="1.2" stroke-linecap="butt"/>
<polyline points="405,493.7 405,607.4 411.9,607.4" fill="none" stroke="#1c1c1c" stroke-width="1.3" stroke-linejoin="miter"/>
<polyline points="411.9,493.7 411.9,609.7 577.4,609.7" fill="none" stroke="#1c1c1c" stroke-width="1.3" stroke-linejoin="miter"/>
<line x1="542.6" y1="493.7" x2="542.6" y2="609.7" stroke="#1c1c1c" stroke-width="1.2" stroke-linecap="butt"/>
<polyline points="549.8,493.7 549.8,607.4 542.6,607.4" fill="none" stroke="#1c1c1c" stroke-width="1.3" stroke-linejoin="miter"/>
<line x1="540" y1="493.7" x2="550" y2="493.7" stroke="#1c1c1c" stroke-width="1.2" stroke-linecap="butt"/>
<rect x="534.2" y="487" width="5.2" height="5.6" fill="none" stroke="#1c1c1c" stroke-width="1"/>
<line x1="543" y1="490.4" x2="577.4" y2="490.4" stroke="#1c1c1c" stroke-width="0.9" stroke-linecap="butt"/>
<rect x="414.2" y="497" width="125.8" height="107.4" rx="6" fill="none" stroke="#333" stroke-width="1"/>
<path d="M442.4,497.5 V562 Q442.4,567.6 448,567.6 H506.4 Q512,567.6 512,562 V497.5" fill="none" stroke="#333" stroke-width="1" stroke-linejoin="round" stroke-linecap="butt"/>
<path d="M414.8,576.4 Q414.8,582.4 421,582.4 H453 Q459,582.4 460,588 L460.8,594.5 Q461.8,600.3 468,600.3 H486 Q492,600.3 493,594.5 L493.8,588 Q494.8,582.4 501,582.4 H533.4 Q539.6,582.4 539.6,576.4" fill="none" stroke="#333" stroke-width="1" stroke-linejoin="round" stroke-linecap="butt"/>
<line x1="477.3" y1="455.8" x2="477.3" y2="613.4" stroke="#1c1c1c" stroke-width="1.2" stroke-dasharray="3.6 2.8" stroke-linecap="butt"/>
<line x1="535.9" y1="453.6" x2="535.9" y2="487.5" stroke="#1c1c1c" stroke-width="1" stroke-linecap="butt"/>
<line x1="494" y1="455.8" x2="487.2" y2="455.8" stroke="#1c1c1c" stroke-width="1.15" stroke-linecap="butt"/>
<polygon points="478.2,455.8 488.2,453 488.2,458.6" fill="#1c1c1c"/>
<line x1="521" y1="455.8" x2="526.6" y2="455.8" stroke="#1c1c1c" stroke-width="1.15" stroke-linecap="butt"/>
<polygon points="535.6,455.8 525.6,458.6 525.6,453" fill="#1c1c1c"/>
<text x="507" y="460.81" font-size="14" text-anchor="middle" fill="#1e1e1e" stroke="#1e1e1e" stroke-width="0.3">245</text>
<path d="M561.04,465.08 A12.4,12.4 0 1 1 568.73,480.71 L540.6,489.4 L539.1,486.6 Z" fill="#fff" stroke="#1c1c1c" stroke-width="1.3" stroke-linejoin="round" stroke-linecap="butt"/>
<circle cx="572.6" cy="469" r="7.5" fill="#fff" stroke="#1c1c1c" stroke-width="1.3"/>
<polygon points="572.69,463.97 573.88,464.14 572.69,467.89 574.56,467.3 573.2,474.37 572.6,474.37 572.86,469.43 570.55,470.19" fill="#1c1c1c" stroke="#1c1c1c" stroke-width="0.3"/>
<line x1="577" y1="530" x2="577" y2="499.6" stroke="#1c1c1c" stroke-width="1.15" stroke-linecap="butt"/>
<polygon points="577,490.6 579.8,500.6 574.2,500.6" fill="#1c1c1c"/>
<line x1="577" y1="549.5" x2="577" y2="600.6" stroke="#1c1c1c" stroke-width="1.15" stroke-linecap="butt"/>
<polygon points="577,609.6 574.2,599.6 579.8,599.6" fill="#1c1c1c"/>
<text x="577" y="544.61" font-size="14" text-anchor="middle" fill="#1e1e1e" stroke="#1e1e1e" stroke-width="0.3">490</text>
<line x1="120.1" y1="524.4" x2="120.1" y2="562" stroke="#1c1c1c" stroke-width="1" stroke-linecap="butt"/>
<line x1="256.1" y1="524.4" x2="256.1" y2="553.2" stroke="#1c1c1c" stroke-width="1" stroke-linecap="butt"/>
<line x1="154.6" y1="525.3" x2="130" y2="525.3" stroke="#1c1c1c" stroke-width="1.15" stroke-linecap="butt"/>
<polygon points="121,525.3 131,522.5 131,528.1" fill="#1c1c1c"/>
<line x1="230.8" y1="525.3" x2="246.3" y2="525.3" stroke="#1c1c1c" stroke-width="1.15" stroke-linecap="butt"/>
<polygon points="255.3,525.3 245.3,528.1 245.3,522.5" fill="#1c1c1c"/>
<text x="193.4" y="530.31" font-size="14" text-anchor="middle" textLength="64" lengthAdjust="spacingAndGlyphs" fill="#1e1e1e" stroke="#1e1e1e" stroke-width="0.3">min. 1500</text>
<path d="M121.2,561.4 C133,555.6 143,553.2 153,553.6 C176,554.6 194,565 213,565 C224,565 231,561.6 236.8,557.2" fill="none" stroke="#1c1c1c" stroke-width="1.9" stroke-linejoin="round" stroke-linecap="butt"/>
<path d="M123.6,565.4 C135,559.8 144,557.4 154,557.8 C177,558.8 195,569.3 214,569.3 C226,569.3 233.6,565.6 239.4,561" fill="none" stroke="#1c1c1c" stroke-width="1.9" stroke-linejoin="round" stroke-linecap="butt"/>
<line x1="236.8" y1="557.2" x2="236.5" y2="542" stroke="#1c1c1c" stroke-width="1.2" stroke-linecap="butt"/>
<line x1="237.4" y1="557.6" x2="243" y2="543.2" stroke="#1c1c1c" stroke-width="1.2" stroke-linecap="butt"/>
<line x1="238" y1="558.8" x2="250.6" y2="548.3" stroke="#1c1c1c" stroke-width="1.2" stroke-linecap="butt"/>
<line x1="239.4" y1="560.6" x2="246" y2="556" stroke="#1c1c1c" stroke-width="1.2" stroke-linecap="butt"/>
<line x1="152.2" y1="558.4" x2="140.2" y2="573.4" stroke="#1c1c1c" stroke-width="1.2" stroke-linecap="butt"/>
<text x="121.6" y="590" font-size="14" text-anchor="start" textLength="76.2" lengthAdjust="spacingAndGlyphs" fill="#1e1e1e" stroke="#1e1e1e" stroke-width="0.3">H05 V V - F</text>
</svg>
</body></html>
